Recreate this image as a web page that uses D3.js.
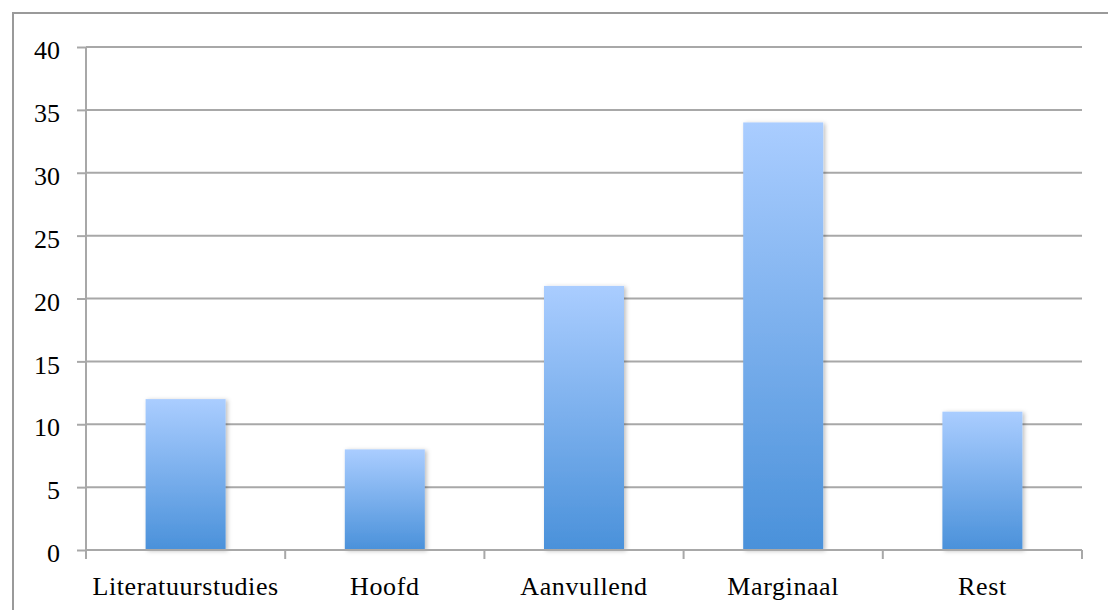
<!DOCTYPE html>
<html><head><meta charset="utf-8">
<script src="https://cdn.jsdelivr.net/npm/d3@7"></script>
<style>body{margin:0;background:#fff}svg{display:block}</style>
</head><body>
<svg id="c" width="1108" height="610"></svg>
<script>
const categories = ["Literatuurstudies","Hoofd","Aanvullend","Marginaal","Rest"];
const values = [12, 8, 21, 34, 11];
const yTicks = [0,5,10,15,20,25,30,35,40];

const svg = d3.select("#c");
const m = {left:86, right:1082, top:47, bottom:550};
const font = "'Liberation Serif', serif";

// outer border (clipped at right/bottom)
svg.append("rect").attr("x",13).attr("y",13).attr("width",1200).attr("height",700)
  .attr("fill","none").attr("stroke","#9a9a9a").attr("stroke-width",2);

const defs = svg.append("defs");
const g = defs.append("linearGradient").attr("id","bg").attr("x1",0).attr("y1",0).attr("x2",0).attr("y2",1);
g.append("stop").attr("offset","0%").attr("stop-color","#aacdff");
g.append("stop").attr("offset","100%").attr("stop-color","#4a91da");
const f = defs.append("filter").attr("id","sh").attr("x","-20%").attr("y","-20%").attr("width","140%").attr("height","140%");
f.append("feDropShadow").attr("dx",2).attr("dy",1).attr("stdDeviation",2).attr("flood-color","#000").attr("flood-opacity",0.25);

const x = d3.scaleBand().domain(categories).range([m.left, m.right]).paddingInner(0).paddingOuter(0);
const y = d3.scaleLinear().domain([0,40]).range([m.bottom, m.top]);

// gridlines
svg.append("g").selectAll("line").data(yTicks.filter(d=>d>0)).join("line")
  .attr("x1",m.left).attr("x2",m.right).attr("y1",d=>y(d)).attr("y2",d=>y(d))
  .attr("stroke","#a8a8a8").attr("stroke-width",2);

// y axis
const ya = svg.append("g").attr("transform",`translate(${m.left},0)`)
  .call(d3.axisLeft(y).tickValues(yTicks).tickSize(9).tickPadding(17).tickFormat(d3.format("d")));
ya.select(".domain").attr("stroke","#a8a8a8").attr("stroke-width",2).attr("d",`M0,${m.top}V${m.bottom}`);
ya.selectAll(".tick line").attr("stroke","#a8a8a8").attr("stroke-width",2);
ya.selectAll("text").attr("font-family",font).attr("font-size",26).attr("fill","#000").attr("dy","0.45em");

// bars
const bw = 80;
svg.append("g").selectAll("rect").data(values).join("rect")
  .attr("x",(d,i)=>x(categories[i]) + x.bandwidth()/2 - bw/2)
  .attr("width",bw)
  .attr("y",d=>y(d)).attr("height",d=>y(0)-y(d))
  .attr("fill","url(#bg)").attr("filter","url(#sh)");

// x axis
const xa = svg.append("g").attr("transform",`translate(0,${m.bottom})`)
  .call(d3.axisBottom(x).tickSize(0).tickPadding(24));
xa.select(".domain").attr("stroke","#a8a8a8").attr("stroke-width",2).attr("d",`M${m.left},0H${m.right}`);
xa.selectAll("text").attr("font-family",font).attr("font-size",26).attr("letter-spacing","0.6px")
  .attr("fill","#000").attr("y",45).attr("dy",0);
const bounds = categories.map(c=>x(c)).concat([m.right]);
svg.append("g").selectAll("line").data(bounds).join("line")
  .attr("x1",d=>d).attr("x2",d=>d).attr("y1",m.bottom).attr("y2",m.bottom+9)
  .attr("stroke","#a8a8a8").attr("stroke-width",2);
</script>
</body></html>
